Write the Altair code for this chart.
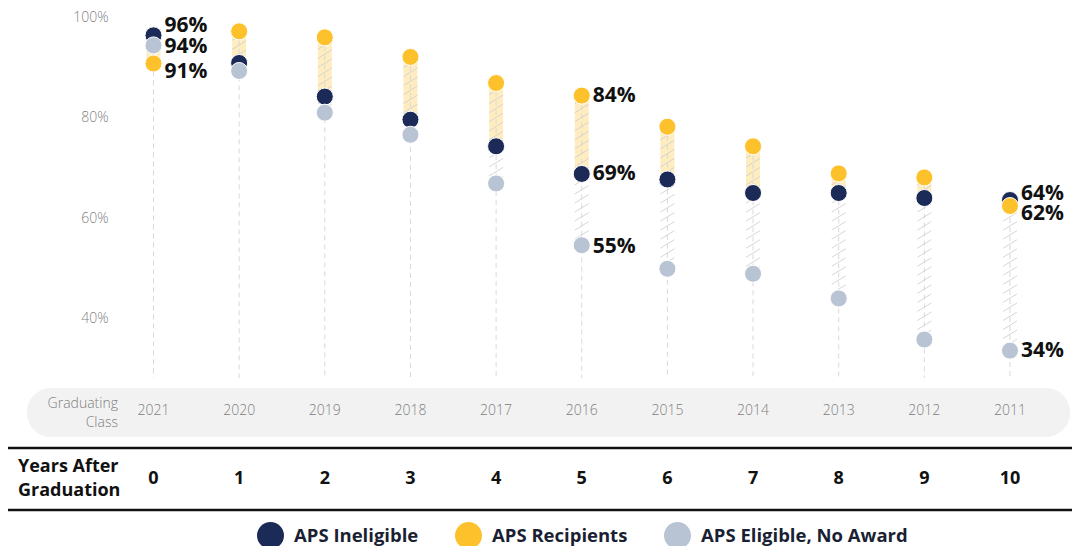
import altair as alt
import pandas as pd

# ---------------- data ----------------
years_after = [0, 1, 2, 3, 4, 5, 6, 7, 8, 9, 10]
grad_class = ["2021", "2020", "2019", "2018", "2017", "2016", "2015", "2014", "2013", "2012", "2011"]
ineligible = [96.4, 90.9, 84.2, 79.6, 74.3, 68.8, 67.7, 65.0, 65.0, 64.0, 63.6]
recipients = [90.8, 97.2, 96.0, 92.1, 86.9, 84.4, 78.2, 74.3, 68.9, 68.1, 62.4]
eligible_no_award = [94.4, 89.3, 81.0, 76.6, 66.9, 54.6, 49.9, 48.9, 44.0, 35.8, 33.6]
series_names = ["APS Ineligible", "APS Recipients", "APS Eligible, No Award"]
labelled_years = [0, 5, 10]
y_ticks = [40, 60, 80, 100]

# ---------------- style ----------------
NAVY, YELLOW, GREY = "#1B2A56", "#FDC12B", "#B8C4D4"
BAR_YELLOW = "#FFEDC0"
FONT = "Open Sans"
W, H = 960, 370
X_DOM = [-0.4845, 10.724]
Y_DOM = [28.15, 101.85]
xs = alt.Scale(domain=X_DOM, nice=False, zero=False, padding=0)
ys = alt.Scale(domain=Y_DOM, nice=False, zero=False, padding=0)
Y_AXIS = alt.Axis(values=y_ticks, labelExpr="datum.value + '%'", domain=False, ticks=False,
                  grid=False, labelPadding=4, labelColor="#7f7f7f", labelFontSize=14,
                  labelFont=FONT, labelFontWeight=300, title=None)


def X(field):
    return alt.X(field, type="quantitative", scale=xs, axis=None, title=None)


def Y(field):
    return alt.Y(field, type="quantitative", scale=ys, axis=Y_AXIS, title=None)


wide = pd.DataFrame({
    "year": years_after, "cls": grad_class,
    "ineligible": ineligible, "recipients": recipients, "eligible": eligible_no_award,
})
wide["top"] = wide[["ineligible", "recipients", "eligible"]].max(axis=1)

long_rows = []
for col, name in zip(["ineligible", "recipients", "eligible"], series_names):
    for y, v in zip(years_after, wide[col]):
        long_rows.append({"year": y, "series": name, "value": v})
long = pd.DataFrame(long_rows)

# hatch decoration derived from the bar ranges
HW = 7 / 85.65  # half bar width in x units
RISE, SPACING = 1.7, 1.8
hatch_rows = []
for y, a, b, c in zip(years_after, recipients, ineligible, eligible_no_award):
    for lo, hi in [(min(a, b), max(a, b)), (min(b, c), max(b, c))]:
        k = int((lo - RISE) // SPACING)
        while k * SPACING <= hi:
            v = k * SPACING
            t0 = max(0.0, (lo - v) / RISE)
            t1 = min(1.0, (hi - v) / RISE)
            if t1 > t0:
                hatch_rows.append({"x": y - HW + 2 * HW * t0, "x2": y - HW + 2 * HW * t1,
                                   "y": v + RISE * t0, "y2": v + RISE * t1})
            k += 1
hatch = pd.DataFrame(hatch_rows)

# ---------------- layers ----------------
one = alt.Data(values=[{}])

band = alt.Chart(one).mark_rect(color="#F2F2F2", cornerRadius=24).encode(
    x=alt.value(-85), x2=alt.value(958), y=alt.value(380), y2=alt.value(429))
line1 = alt.Chart(one).mark_rule(color="#111111", strokeWidth=2.5).encode(
    x=alt.value(-104), x2=alt.value(960), y=alt.value(440))
line2 = alt.Chart(one).mark_rule(color="#111111", strokeWidth=2.5).encode(
    x=alt.value(-104), x2=alt.value(960), y=alt.value(502))

bars = alt.Chart(wide).mark_bar(size=14, color=BAR_YELLOW, orient="vertical").encode(
    x=X("year"), y=Y("recipients"), y2="ineligible")

dashed = alt.Chart(wide).mark_rule(color="#d9d9d9", strokeDash=[5, 4], strokeWidth=1).encode(
    x=X("year"), y=Y("top"), y2=alt.value(H))

hatch_l = alt.Chart(hatch).mark_rule(color="#d2d2d2", strokeWidth=1, opacity=0.9).encode(
    x=X("x"), x2="x2", y=Y("y"), y2="y2")

dots = alt.Chart(long).mark_circle(size=290, opacity=1, stroke="white", strokeWidth=1).encode(
    x=X("year"), y=Y("value"),
    color=alt.Color("series:N", scale=alt.Scale(domain=series_names, range=[NAVY, YELLOW, GREY]),
                    sort=series_names,
                    legend=alt.Legend(orient="none", legendX=145, legendY=514, direction="horizontal",
                                      title=None, symbolType="circle", symbolSize=729,
                                      symbolStrokeWidth=0, symbolOpacity=1,
                                      labelFont=FONT, labelFontSize=18.5, labelFontWeight="bold",
                                      labelColor="#1a1f33", columnPadding=36, labelOffset=10,
                                      labelLimit=400)),
)

# value labels
lab = long[long["year"].isin(labelled_years)].copy()
lab["text"] = lab["value"].round().astype(int).astype(str) + "%"
nudges = {(0, "APS Ineligible"): -9, (0, "APS Eligible, No Award"): 2, (0, "APS Recipients"): 9,
          (5, "APS Eligible, No Award"): 2,
          (10, "APS Ineligible"): -6, (10, "APS Recipients"): 8}
lab["dy"] = [nudges.get((y, s), 0) for y, s in zip(lab["year"], lab["series"])]
label_layers = []
for dy in sorted(lab["dy"].unique()):
    sub = lab[lab["dy"] == dy][["year", "value", "text"]]
    label_layers.append(
        alt.Chart(sub).mark_text(align="left", baseline="middle", dx=11, dy=int(dy), font=FONT,
                                 fontSize=21, fontWeight="bold", color="#111111").encode(
            x=X("year"), y=Y("value"), text="text:N"))

cls_text = alt.Chart(wide).mark_text(font=FONT, fontSize=14, fontWeight=300, color="#808080",
                                     baseline="middle").encode(
    x=X("year"), y=alt.value(403), text="cls:N")
cls_title = alt.Chart(one).mark_text(font=FONT, fontSize=14, fontWeight=300, color="#808080",
                                     align="right", baseline="middle", lineHeight=19).encode(
    x=alt.value(6), y=alt.value(396), text=alt.value(["Graduating", "Class"]))
yrs_text = alt.Chart(wide).mark_text(font=FONT, fontSize=18, fontWeight="bold", color="#111111",
                                     baseline="middle").encode(
    x=X("year"), y=alt.value(471), text="year:N")
yrs_title = alt.Chart(one).mark_text(font=FONT, fontSize=18, fontWeight="bold", color="#111111",
                                     align="left", baseline="middle", lineHeight=24).encode(
    x=alt.value(-94), y=alt.value(459), text=alt.value(["Years After", "Graduation"]))

chart = alt.layer(
    band, line1, line2, bars, dashed, hatch_l, dots, *label_layers,
    cls_text, cls_title, yrs_text, yrs_title
).properties(
    width=W, height=H,
    padding={"left": 104, "top": 0, "right": 0, "bottom": 168},
    autosize=alt.AutoSizeParams(type="none"),
).configure_view(stroke=None)

chart.save("out.html", embed_options={"renderer": "svg", "actions": False})
